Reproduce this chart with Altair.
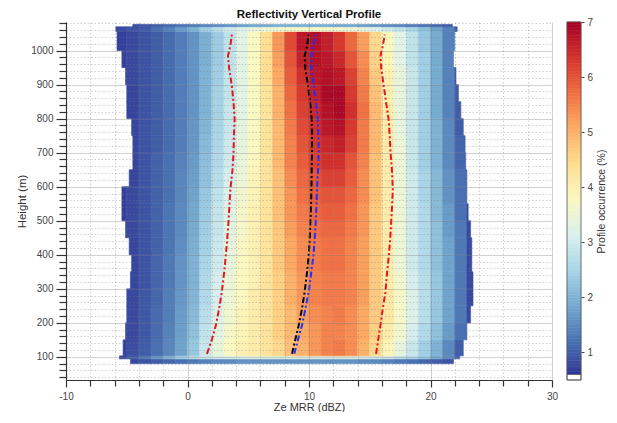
import altair as alt
import numpy as np
import pandas as pd

# ---------------- data ----------------
# lower edges of the 1-dBZ reflectivity bins
ze_bin_start = list(range(-6, 24))

# height bands (m) of the occurrence rows
row_bottom = [80, 94, 103, 150, 200, 250, 300, 350, 400, 450, 500, 550,
              600, 650, 700, 750, 800, 850, 900, 950, 1000, 1056, 1070]
row_top = [94, 103, 150, 200, 250, 300, 350, 400, 450, 500, 550, 600,
           650, 700, 750, 800, 850, 900, 950, 1000, 1056, 1070, 1077]
# outer edges (dBZ) of the coloured area in each band
row_left = [-4.7, -5.6, -5.3, -5.1, -5.0, -5.0, -4.7, -4.6, -4.8, -5.1, -5.4, -5.4,
            -4.8, -4.5, -4.5, -4.6, -5.0, -5.0, -5.1, -5.4, -5.8, -5.9, -4.5]
row_right = [21.9, 22.4, 22.7, 23.0, 23.3, 23.5, 23.5, 23.4, 23.4, 23.3, 23.1, 23.0,
             23.0, 22.9, 22.85, 22.7, 22.5, 22.3, 22.1, 21.9, 22.0, 22.2, 21.8]

N = None
occurrence = [
    [N, 0.8, 0.9, 1.0, 1.1, 1.2, 1.3, 1.4, 1.5, 1.5, 1.6, 1.6, 1.6, 1.6, 1.6, 1.6, 1.6, 1.6, 1.6, 1.6, 1.5, 1.5, 1.4, 1.3, 1.2, 1.1, 1.0, 0.9, N, N],
    [0.8, 1.0, 1.3, 1.7, 2.1, 2.5, 2.8, 3.0, 3.1, 3.2, 3.2, 3.3, 3.3, 3.3, 3.3, 3.3, 3.3, 3.3, 3.3, 3.3, 3.2, 3.1, 3.0, 2.8, 2.6, 2.3, 1.9, 1.5, 1.1, N],
    [0.7, 0.85, 1.0, 1.2, 1.45, 1.8, 2.3, 2.9, 3.4, 3.8, 4.0, 4.1, 4.3, 4.5, 4.8, 5.0, 5.3, 5.5, 5.6, 5.4, 5.0, 4.5, 3.9, 3.4, 2.9, 2.4, 2.0, 1.5, 1.0, N],
    [0.7, 0.8, 0.95, 1.15, 1.4, 1.75, 2.2, 2.8, 3.3, 3.7, 3.9, 4.1, 4.3, 4.6, 4.9, 5.1, 5.3, 5.5, 5.5, 5.4, 5.1, 4.6, 4.1, 3.6, 3.1, 2.6, 2.2, 1.7, 1.2, N],
    [N, 0.8, 0.95, 1.15, 1.35, 1.7, 2.1, 2.7, 3.2, 3.6, 3.9, 4.1, 4.3, 4.6, 4.9, 5.2, 5.4, 5.5, 5.6, 5.4, 5.1, 4.7, 4.2, 3.7, 3.2, 2.7, 2.3, 1.8, 1.3, 0.8],
    [N, 0.8, 0.95, 1.1, 1.35, 1.65, 2.05, 2.6, 3.1, 3.5, 3.8, 4.1, 4.3, 4.6, 5.0, 5.3, 5.5, 5.6, 5.6, 5.5, 5.2, 4.7, 4.2, 3.7, 3.2, 2.7, 2.3, 1.8, 1.3, 0.8],
    [N, 0.75, 0.9, 1.1, 1.3, 1.6, 2.0, 2.6, 3.1, 3.5, 3.8, 4.0, 4.3, 4.6, 5.0, 5.3, 5.5, 5.6, 5.6, 5.5, 5.2, 4.7, 4.1, 3.6, 3.1, 2.7, 2.3, 1.8, 1.3, 0.8],
    [N, 0.75, 0.9, 1.1, 1.3, 1.6, 2.0, 2.5, 3.0, 3.4, 3.8, 4.0, 4.3, 4.7, 5.1, 5.4, 5.6, 5.7, 5.7, 5.5, 5.2, 4.7, 4.1, 3.5, 3.0, 2.6, 2.2, 1.8, 1.3, 0.8],
    [N, 0.75, 0.9, 1.05, 1.25, 1.55, 1.95, 2.45, 2.95, 3.35, 3.75, 4.0, 4.3, 4.7, 5.1, 5.4, 5.6, 5.7, 5.7, 5.5, 5.2, 4.7, 4.1, 3.5, 3.0, 2.6, 2.2, 1.8, 1.3, 0.8],
    [0.7, 0.8, 0.9, 1.05, 1.25, 1.5, 1.9, 2.4, 2.9, 3.3, 3.7, 4.0, 4.3, 4.7, 5.2, 5.5, 5.7, 5.8, 5.8, 5.6, 5.3, 4.7, 4.1, 3.5, 3.0, 2.6, 2.2, 1.7, 1.3, 0.8],
    [0.7, 0.8, 0.9, 1.05, 1.25, 1.5, 1.85, 2.35, 2.85, 3.25, 3.65, 4.0, 4.3, 4.8, 5.3, 5.6, 5.8, 5.9, 5.9, 5.7, 5.3, 4.7, 4.1, 3.5, 3.0, 2.6, 2.1, 1.7, 1.2, 0.8],
    [0.7, 0.8, 0.9, 1.05, 1.2, 1.45, 1.8, 2.3, 2.8, 3.2, 3.6, 3.95, 4.3, 4.8, 5.3, 5.7, 5.9, 6.0, 6.0, 5.8, 5.4, 4.8, 4.1, 3.5, 3.0, 2.5, 2.1, 1.6, 1.2, N],
    [N, 0.75, 0.9, 1.05, 1.2, 1.45, 1.75, 2.2, 2.7, 3.1, 3.5, 3.9, 4.3, 4.8, 5.4, 5.8, 6.0, 6.2, 6.2, 5.9, 5.4, 4.8, 4.1, 3.5, 3.0, 2.5, 2.1, 1.6, 1.2, N],
    [N, 0.75, 0.9, 1.05, 1.2, 1.4, 1.7, 2.15, 2.6, 3.0, 3.45, 3.85, 4.3, 4.9, 5.5, 5.9, 6.2, 6.4, 6.4, 6.0, 5.5, 4.8, 4.1, 3.5, 2.9, 2.4, 2.0, 1.5, 1.1, N],
    [N, 0.75, 0.9, 1.0, 1.15, 1.35, 1.65, 2.1, 2.55, 2.95, 3.4, 3.8, 4.3, 4.9, 5.5, 6.0, 6.3, 6.5, 6.6, 6.2, 5.6, 4.9, 4.1, 3.5, 2.9, 2.4, 2.0, 1.5, 1.1, N],
    [N, 0.75, 0.9, 1.0, 1.15, 1.35, 1.65, 2.05, 2.5, 2.9, 3.35, 3.8, 4.3, 4.9, 5.6, 6.1, 6.4, 6.7, 6.8, 6.3, 5.6, 4.9, 4.1, 3.4, 2.9, 2.4, 2.0, 1.5, 1.0, N],
    [N, 0.75, 0.9, 1.0, 1.15, 1.35, 1.6, 2.0, 2.45, 2.9, 3.3, 3.8, 4.3, 5.0, 5.7, 6.2, 6.5, 6.8, 6.9, 6.4, 5.7, 4.9, 4.1, 3.4, 2.9, 2.4, 1.9, 1.4, 1.0, N],
    [N, 0.75, 0.9, 1.0, 1.15, 1.35, 1.6, 2.0, 2.45, 2.85, 3.3, 3.8, 4.3, 5.0, 5.8, 6.3, 6.6, 6.9, 6.9, 6.3, 5.6, 4.8, 4.0, 3.4, 2.9, 2.4, 1.9, 1.4, 1.0, N],
    [0.7, 0.8, 0.9, 1.0, 1.15, 1.35, 1.6, 2.0, 2.4, 2.85, 3.3, 3.8, 4.4, 5.1, 5.9, 6.4, 6.7, 6.8, 6.7, 6.2, 5.5, 4.7, 4.0, 3.4, 2.9, 2.4, 1.9, 1.4, 0.9, N],
    [0.7, 0.8, 0.9, 1.0, 1.15, 1.35, 1.6, 1.95, 2.35, 2.8, 3.3, 3.8, 4.4, 5.2, 6.0, 6.6, 6.8, 6.7, 6.5, 6.0, 5.4, 4.6, 3.9, 3.3, 2.8, 2.4, 1.9, 1.4, 0.9, N],
    [0.7, 0.8, 0.9, 1.0, 1.15, 1.35, 1.6, 1.95, 2.35, 2.8, 3.3, 3.8, 4.4, 5.3, 6.1, 6.7, 6.8, 6.6, 6.3, 5.8, 5.2, 4.5, 3.8, 3.3, 2.8, 2.3, 1.9, 1.4, 0.9, N],
    [0.8, 0.9, 1.0, 1.2, 1.4, 1.7, 2.0, 2.4, 2.7, 3.0, 3.2, 3.4, 3.5, 3.6, 3.7, 3.7, 3.7, 3.7, 3.6, 3.5, 3.4, 3.2, 3.0, 2.8, 2.5, 2.2, 1.8, 1.4, 1.0, N],
    [N, 0.8, 0.9, 1.0, 1.1, 1.2, 1.3, 1.4, 1.5, 1.6, 1.7, 1.8, 1.8, 1.9, 1.9, 1.9, 1.9, 1.9, 1.8, 1.8, 1.7, 1.6, 1.5, 1.4, 1.3, 1.2, 1.1, 1.0, N, N],
]

# profile statistics lines (dBZ) at these heights (m)
profile_height = [109, 150, 192, 241, 290, 349, 397, 446, 495, 544, 593,
                  652, 701, 750, 799, 847, 896, 945, 984, 1013, 1047]
ze_low_red = [1.6, 2.0, 2.33, 2.6, 2.82, 3.02, 3.15, 3.27, 3.37, 3.45, 3.53,
              3.71, 3.79, 3.82, 3.88, 3.79, 3.65, 3.44, 3.33, 3.52, 3.65]
ze_black = [8.6, 8.87, 9.15, 9.42, 9.64, 9.84, 9.97, 10.06, 10.11, 10.17, 10.2,
            10.22, 10.25, 10.25, 10.22, 10.1, 9.92, 9.7, 9.64, 9.84, 9.97]
ze_blue = [8.79, 9.09, 9.42, 9.7, 9.97, 10.19, 10.36, 10.47, 10.55, 10.61, 10.66,
           10.75, 10.8, 10.78, 10.72, 10.58, 10.4, 10.2, 10.18, 10.35, 10.55]
ze_high_red = [15.52, 15.69, 15.88, 16.07, 16.29, 16.43, 16.57, 16.68, 16.76, 16.84, 16.9,
               16.82, 16.71, 16.64, 16.55, 16.35, 16.15, 15.96, 15.88, 16.07, 16.24]

x_ticks = list(range(-10, 31, 2))
y_ticks = list(range(40, 1081, 20))
cbar_ticks = [1, 2, 3, 4, 5, 6, 7]

# ---------------- tables ----------------
records = []
for bottom, top, left, right, row in zip(row_bottom, row_top, row_left, row_right, occurrence):
    for c, v in zip(ze_bin_start, row):
        if v is None:
            continue
        x0 = max(c, left)
        x1 = min(c + 1, right)
        if x1 <= x0:
            continue
        records.append({"x0": x0, "x1": x1, "y0": bottom, "y1": top, "v": v})
heat_df = pd.DataFrame(records)

color_scale = alt.Scale(scheme="redyellowblue", reverse=True, domain=[0.6, 7], clamp=True)

major_x = "datum.value % 10 === 0"
major_y = "datum.value % 100 === 0"

x_axis = alt.Axis(
    values=x_ticks, tickCount=200, labelExpr=f"{major_x} ? ('' + datum.value) : ''",
    tickSize={"condition": {"test": major_x, "value": 7}, "value": 6},
    gridDash={"condition": {"test": major_x, "value": [3, 0]}, "value": [1.5, 2]},
    gridColor="#7a7a7a", gridOpacity=0.45, gridWidth=0.8,
    domainColor="#333333", domainWidth=1.2, tickColor="#333333", tickWidth=1.2,
    labelColor="#444444", labelFontSize=10, labelPadding=4, labelFlush=False,
    labelOverlap=False, title="Ze MRR (dBZ)", titleFontSize=11,
    titleFontWeight="normal", titleColor="#333333", titlePadding=0, zindex=1,
)
y_axis = alt.Axis(
    values=y_ticks, tickCount=200, labelExpr=f"{major_y} ? ('' + datum.value) : ''",
    tickSize={"condition": {"test": major_y, "value": 10}, "value": 7},
    gridDash={"condition": {"test": major_y, "value": [3, 0]}, "value": [1.5, 2]},
    gridColor="#7a7a7a", gridOpacity=0.45, gridWidth=0.8,
    domainColor="#333333", domainWidth=1.2, tickColor="#333333", tickWidth=1.2,
    labelColor="#444444", labelFontSize=10, labelPadding=3, labelFlush=False,
    labelOverlap=False, title="Height (m)", titleFontSize=11.5,
    titleFontWeight="normal", titleColor="#333333", titlePadding=3, zindex=1,
)

heat = alt.Chart(heat_df).mark_rect(strokeWidth=0.6).encode(
    x=alt.X("x0:Q", scale=alt.Scale(domain=[-10, 30], nice=False, zero=False), axis=x_axis),
    x2="x1:Q",
    y=alt.Y("y0:Q", scale=alt.Scale(domain=[32, 1084], nice=False, zero=False), axis=y_axis),
    y2="y1:Q",
    color=alt.Color("v:Q", scale=color_scale, legend=None),
    stroke=alt.Stroke("v:Q", scale=color_scale, legend=None),
)

line_specs = [
    ("low", ze_low_red, "#e8141c"),
    ("black", ze_black, "#000000"),
    ("blue", ze_blue, "#1f2dff"),
    ("high", ze_high_red, "#e8141c"),
]
layers = [heat]
for name, vals, col in line_specs:
    df = pd.DataFrame({"x0": vals, "y0": profile_height})
    layers.append(
        alt.Chart(df).mark_line(color=col, strokeWidth=2, strokeDash=[6, 2.5, 2, 2.5]).encode(
            x="x0:Q", y="y0:Q", order="y0:Q"
        )
    )

main = alt.layer(*layers).properties(
    width=486, height=358,
    title=alt.TitleParams("Reflectivity Vertical Profile", fontSize=11.5, fontWeight="bold",
                          anchor="middle", offset=-2, color="#111111"),
)

# ---------------- colour bar ----------------
cb_lo = np.round(np.arange(0.6, 7.0, 0.05), 3)
cb_df = pd.DataFrame({"lo": cb_lo, "hi": np.round(cb_lo + 0.05, 3), "mid": cb_lo + 0.025})
cb_axis = alt.Axis(
    orient="right", values=cbar_ticks, tickCount=20, format="d", title="Profile occurrence (%)",
    titleAngle=270, titleBaseline="top",
    titleFontSize=10.5, titleFontWeight="normal", titleColor="#333333", titlePadding=4,
    tickSize=3, tickColor="#444444", domain=False, grid=False, labelFontSize=10,
    labelColor="#444444", labelPadding=3, labelFlush=False,
)
cb_scale = alt.Scale(domain=[0.5, 7], nice=False, zero=False)
cb_rect = alt.Chart(cb_df).mark_rect(strokeWidth=0.6).encode(
    x=alt.value(0), x2=alt.value(14),
    y=alt.Y("lo:Q", scale=cb_scale, axis=cb_axis), y2="hi:Q",
    color=alt.Color("mid:Q", scale=color_scale, legend=None),
    stroke=alt.Stroke("mid:Q", scale=color_scale, legend=None),
)
cb_white = alt.Chart(pd.DataFrame({"lo": [0.5], "hi": [0.6]})).mark_rect(
    fill="white", stroke="#555555", strokeWidth=0.8
).encode(x=alt.value(0), x2=alt.value(14), y="lo:Q", y2="hi:Q")
cb_border = alt.Chart(pd.DataFrame({"lo": [0.5], "hi": [7.0]})).mark_rect(
    fillOpacity=0, stroke="#555555", strokeWidth=0.8
).encode(x=alt.value(0), x2=alt.value(14), y="lo:Q", y2="hi:Q")
cbar = alt.layer(cb_rect, cb_white, cb_border).properties(width=14, height=358)

chart = (
    alt.hconcat(main, cbar, spacing=15, bounds="flush")
    .properties(padding={"left": 8, "top": 0, "right": 0, "bottom": 0})
    .configure(font="Liberation Sans")
    .configure_view(stroke=None)
)

chart.save("out.html", embed_options={"renderer": "svg", "actions": False})
